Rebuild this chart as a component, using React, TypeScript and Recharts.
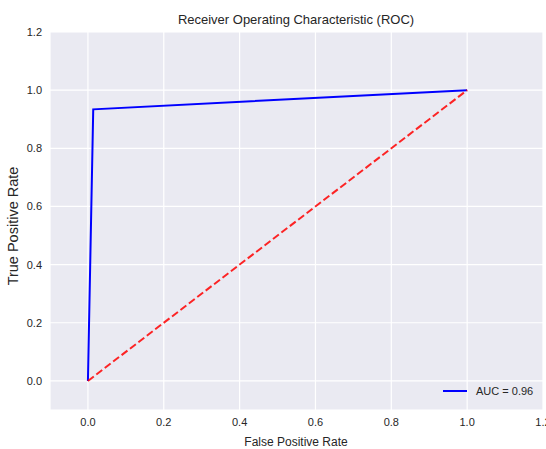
import React from "react";
import { LineChart, Line, XAxis, YAxis, CartesianGrid, Legend } from "recharts";

const rocFpr = [0.0, 0.014, 1.0];
const rocTpr = [0.0, 0.934, 1.0];
const diagX = [0.0, 1.0];
const diagY = [0.0, 1.0];
const axisTicks = [0.0, 0.2, 0.4, 0.6, 0.8, 1.0, 1.2];
const aucLabel = "AUC = 0.96";
const titleText = "Receiver Operating Characteristic (ROC)";
const xLabel = "False Positive Rate";
const yLabel = "True Positive Rate";

const rocData = rocFpr.map((x, i) => ({ x, y: rocTpr[i] }));
const diagData = diagX.map((x, i) => ({ x, y: diagY[i] }));

const FONT = "'Liberation Sans', Arial, sans-serif";
const TEXT = "#262626";

const LegendContent = (props: any) => {
  const items = (props.payload || []).filter((p: any) => p.value === aucLabel);
  return (
    <div style={{ fontFamily: FONT, fontSize: 11, color: TEXT, lineHeight: "14px" }}>
      {items.map((p: any) => (
        <div key={p.value} style={{ display: "flex", alignItems: "center" }}>
          <svg width={24} height={4} style={{ marginRight: 9 }}>
            <line x1={0} y1={2} x2={24} y2={2} stroke={p.color} strokeWidth={2} />
          </svg>
          <span>{p.value}</span>
        </div>
      ))}
    </div>
  );
};

export default function App() {
  return (
    <div style={{ position: "absolute", left: 0, top: 0, width: 546, height: 449, background: "#fff" }}>
      <LineChart
        width={546}
        height={449}
        margin={{ top: 32, right: 3, bottom: 0, left: 0 }}
      >
        <CartesianGrid fill="#EAEAF2" stroke="#ffffff" strokeWidth={1.2} />
        <XAxis
          type="number"
          dataKey="x"
          domain={[-0.1, 1.2]}
          ticks={axisTicks}
          allowDataOverflow
          tickFormatter={(v: number) => v.toFixed(1)}
          axisLine={false}
          tickLine={false}
          tickSize={0}
          tickMargin={8}
          height={39}
          tick={{ fontSize: 11, fill: TEXT, fontFamily: FONT }}
          interval={0}
        />
        <YAxis
          type="number"
          dataKey="y"
          domain={[-0.1, 1.2]}
          ticks={axisTicks}
          allowDataOverflow
          tickFormatter={(v: number) => v.toFixed(1)}
          axisLine={false}
          tickLine={false}
          tickSize={0}
          tickMargin={8}
          width={50}
          tick={{ fontSize: 11, fill: TEXT, fontFamily: FONT }}
          interval={0}
        />
        <Legend
          layout="horizontal"
          verticalAlign="middle"
          align="center"
          content={<LegendContent />}
          wrapperStyle={{ position: "absolute", left: 443, top: 384, width: 100 }}
        />
        <Line
          data={rocData}
          dataKey="y"
          name={aucLabel}
          stroke="#0000FF"
          strokeWidth={2}
          dot={false}
          activeDot={false}
          isAnimationActive={false}
        />
        <Line
          data={diagData}
          dataKey="y"
          name="diag"
          stroke="#FF0000"
          strokeOpacity={0.85}
          strokeWidth={2}
          strokeDasharray="7.4 3.2"
          dot={false}
          activeDot={false}
          isAnimationActive={false}
          legendType="none"
        />
        <text x={296} y={24} textAnchor="middle" fontSize={13} fill={TEXT} fontFamily={FONT}>
          {titleText}
        </text>
        <text x={296} y={446} textAnchor="middle" fontSize={12} fill={TEXT} fontFamily={FONT}>
          {xLabel}
        </text>
        <text
          x={18}
          y={226}
          textAnchor="middle"
          fontSize={14.5}
          fill={TEXT}
          fontFamily={FONT}
          transform="rotate(-90 18 226)"
        >
          {yLabel}
        </text>
      </LineChart>
    </div>
  );
}
